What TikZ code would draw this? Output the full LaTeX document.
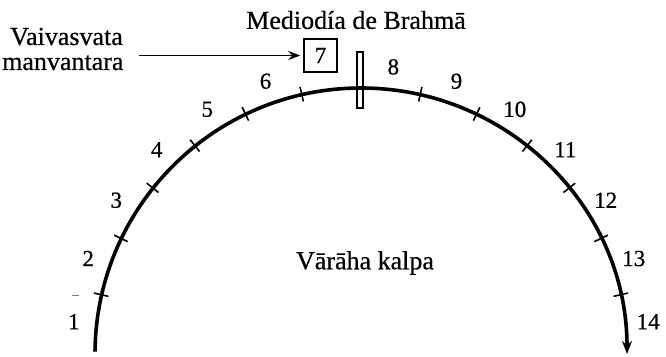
\documentclass[tikz,border=0pt]{standalone}
\usepackage{fontspec}
\setmainfont[FakeBold=0.6,AutoFakeBold=0.6]{Liberation Serif}
\newfontfamily\diagfont[FakeBold=0.6]{Liberation Serif}
\usetikzlibrary{arrows.meta,calc}
\begin{document}
\begin{tikzpicture}[x=1pt,y=1pt,
  numlab/.style={font=\diagfont\fontsize{23}{23}\selectfont, inner sep=0pt},
  txt/.style={font=\diagfont\fontsize{26}{26}\selectfont, inner sep=0pt},
  tickmark/.style={line width=1.6pt},
  arr/.style={line width=1.6pt, -{Stealth[length=12pt,width=9pt]}}]
\useasboundingbox (0,0) rectangle (666,356);
\coordinate (C) at (361,2);
% main arc
\draw[line width=3.6pt, -{Stealth[length=13pt,width=10pt]}] ($(C)+(179.5:266)$) arc[start angle=179.5,end angle=0,radius=266];
% ticks
\foreach \k in {1,...,6,8,9,...,13}
  \draw[tickmark] ($(C)+({180-\k*180/14}:259)$) -- ($(C)+({180-\k*180/14}:274)$);
% number labels
\foreach \k in {1,...,6,8,9,...,14}
  \node[numlab] (n\k) at ($(C)+({180-(\k-0.5)*180/14}:289)$) {\k};
% midday bar
\node[draw, line width=1.3pt, minimum width=6pt, minimum height=56pt, inner sep=0pt] (bar) at (360,276) {};
% boxed 7
\node[draw, line width=1.4pt, minimum width=33pt, minimum height=33pt, numlab] (box7) at (320.5,300.5) {7};
% texts
\node[txt] (mb) at (356,336) {Mediodía de Brahmā};
\node[txt] (vk) at (365,93) {Vārāha kalpa};
\node[txt, anchor=base west] (vaiv) at (10,311) {Vaivasvata};
\node[txt, anchor=base west] (manv) at (2,286) {manvantara};
\coordinate (astart) at ($(manv.east|-box7.west)+(15,0)$);
\draw[arr] (astart) -- ([xshift=-3pt]box7.west);
% stray dash near 1
\draw[gray, line width=1pt] (72,61) -- (79,61);
\end{tikzpicture}
\end{document}
